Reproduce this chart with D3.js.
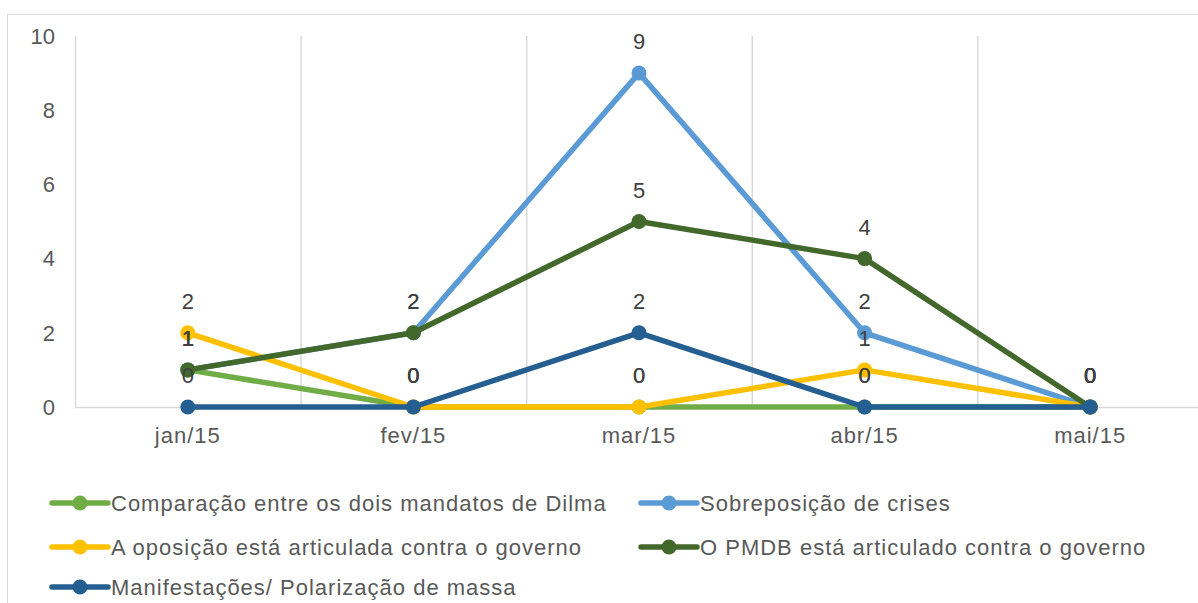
<!DOCTYPE html>
<html>
<head>
<meta charset="utf-8">
<script src="https://cdn.jsdelivr.net/npm/d3@7"></script>
<style>
body { margin: 0; background: #fff; }
svg { font-family: "Liberation Sans", Arial, sans-serif; }
</style>
</head>
<body>
<svg width="1198" height="603"></svg>
<script>
var months = ["jan/15", "fev/15", "mar/15", "abr/15", "mai/15"];
var seriesNames = [
    "Comparação entre os dois mandatos de Dilma",
    "Sobreposição de crises",
    "A oposição está articulada contra o governo",
    "O PMDB está articulado contra o governo",
    "Manifestações/ Polarização de massa"
];
var comparacao = [1, 0, 0, 0, 0];
var sobreposicao = [1, 2, 9, 2, 0];
var oposicao = [2, 0, 0, 1, 0];
var pmdb = [1, 2, 5, 4, 0];
var manifestacoes = [0, 0, 2, 0, 0];
var yTicks = [0, 2, 4, 6, 8, 10];
var colors = ["#70ad47", "#5b9bd5", "#ffc000", "#43682b", "#255e91"];

var seriesValues = [comparacao, sobreposicao, oposicao, pmdb, manifestacoes];

var svg = d3.select("svg");

// chart frame
svg.append("rect")
    .attr("x", 7.5).attr("y", 14.5)
    .attr("width", 1200).attr("height", 600)
    .attr("fill", "none")
    .attr("stroke", "#d9d9d9");

var x = d3.scaleBand()
    .domain(months)
    .range([75, 1203]);

var y = d3.scaleLinear()
    .domain([0, 10])
    .range([407, 36]);

// vertical gridlines at band edges
svg.append("g")
    .selectAll("line")
    .data(months.slice(1))
    .enter().append("line")
    .attr("x1", function(d) { return x(d) + 0.5; })
    .attr("x2", function(d) { return x(d) + 0.5; })
    .attr("y1", y(10))
    .attr("y2", y(0))
    .attr("stroke", "#d9d9d9")
    .attr("stroke-width", 1.5);

// left axis line
svg.append("line")
    .attr("x1", 75.5).attr("x2", 75.5)
    .attr("y1", y(10)).attr("y2", y(0))
    .attr("stroke", "#d9d9d9").attr("stroke-width", 1.5);

// y tick labels
svg.append("g")
    .selectAll("text")
    .data(yTicks)
    .enter().append("text")
    .attr("x", 55)
    .attr("y", function(d) { return y(d); })
    .attr("dy", "0.35em")
    .attr("text-anchor", "end")
    .attr("fill", "#595959")
    .style("font-size", "22px")
    .text(function(d) { return d; });

// x axis line
svg.append("line")
    .attr("x1", 75).attr("x2", 1198)
    .attr("y1", y(0) + 0.5).attr("y2", y(0) + 0.5)
    .attr("stroke", "#d9d9d9").attr("stroke-width", 1.5);

// x labels
svg.append("g")
    .selectAll("text")
    .data(months)
    .enter().append("text")
    .attr("x", function(d) { return x(d) + x.bandwidth() / 2; })
    .attr("y", 443)
    .attr("text-anchor", "middle")
    .attr("fill", "#595959")
    .style("font-size", "22px")
    .style("letter-spacing", "1px")
    .text(function(d) { return d; });

var line = d3.line()
    .x(function(d, i) { return x(months[i]) + x.bandwidth() / 2; })
    .y(function(d) { return y(d); });

seriesValues.forEach(function(vals, s) {
    var g = svg.append("g").attr("class", "series-" + s);
    g.append("path")
        .datum(vals)
        .attr("d", line)
        .attr("fill", "none")
        .attr("stroke", colors[s])
        .attr("stroke-width", 5.5)
        .attr("stroke-linejoin", "round");
    g.selectAll("circle")
        .data(vals)
        .enter().append("circle")
        .attr("cx", function(d, i) { return x(months[i]) + x.bandwidth() / 2; })
        .attr("cy", function(d) { return y(d); })
        .attr("r", 7.5)
        .attr("fill", colors[s]);
});

// data labels
seriesValues.forEach(function(vals, s) {
    svg.append("g")
        .selectAll("text")
        .data(vals)
        .enter().append("text")
        .attr("x", function(d, i) { return x(months[i]) + x.bandwidth() / 2; })
        .attr("y", function(d) { return y(d) - 24; })
        .attr("text-anchor", "middle")
        .attr("fill", "#404040")
        .style("font-size", "22px")
        .text(function(d) { return d; });
});

// legend
var legendPos = [[52, 503], [641, 503], [52, 547], [641, 547], [52, 587]];
var legend = svg.append("g")
    .selectAll("g")
    .data(seriesNames)
    .enter().append("g")
    .attr("transform", function(d, i) { return "translate(" + legendPos[i][0] + "," + legendPos[i][1] + ")"; });
legend.append("line")
    .attr("x1", 0).attr("x2", 56)
    .attr("stroke", function(d, i) { return colors[i]; })
    .attr("stroke-width", 5.5)
    .attr("stroke-linecap", "round");
legend.append("circle")
    .attr("cx", 28).attr("r", 7.5)
    .attr("fill", function(d, i) { return colors[i]; });
legend.append("text")
    .attr("x", 59)
    .attr("dy", "0.35em")
    .attr("fill", "#595959")
    .style("font-size", "22px")
    .style("letter-spacing", "1px")
    .text(function(d) { return d; });
</script>
</body>
</html>
